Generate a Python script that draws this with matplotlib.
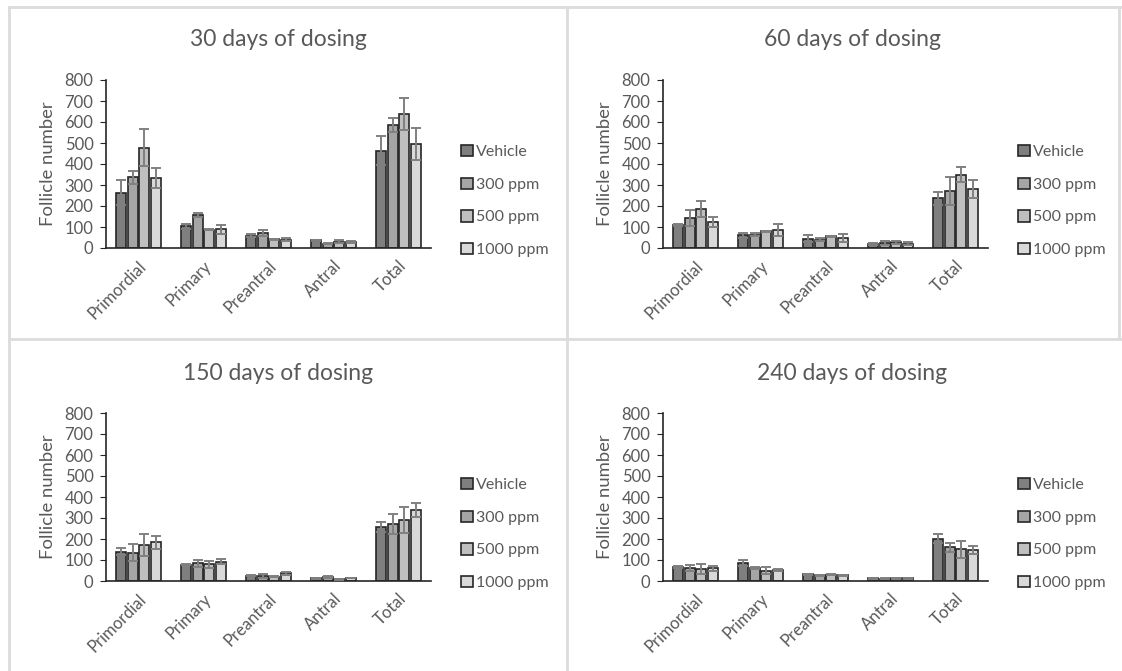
import numpy as np
import matplotlib.pyplot as plt
from matplotlib.patches import Patch
from matplotlib.lines import Line2D

plt.rcParams['font.family'] = ['Lato', 'DejaVu Sans']

# data
categories = ['Primordial', 'Primary', 'Preantral', 'Antral', 'Total']
groups = ['Vehicle', '300 ppm', '500 ppm', '1000 ppm']
titles = ['30 days of dosing', '60 days of dosing', '150 days of dosing', '240 days of dosing']

# 30 days
d30_mean = [[264, 103, 59, 36, 464],
            [337, 158, 71, 21, 586],
            [478, 87, 41, 29, 638],
            [334, 90, 40, 30, 496]]
d30_err = [[58, 13, 6, 4, 67],
           [32, 8, 16, 3, 32],
           [89, 2, 3, 7, 75],
           [49, 21, 8, 5, 76]]
# 60 days
d60_mean = [[109, 60, 44, 19, 236],
            [143, 63, 39, 24, 272],
            [186, 80, 55, 27, 350],
            [124, 87, 46, 20, 282]]
d60_err = [[3, 12, 17, 6, 30],
           [38, 8, 7, 11, 65],
           [38, 2, 3, 8, 34],
           [24, 28, 19, 7, 44]]
# 150 days
d150_mean = [[140, 78, 25, 12, 259],
             [135, 84, 22, 18, 270],
             [171, 79, 21, 9, 289],
             [184, 92, 37, 14, 337]]
d150_err = [[17, 2, 3, 3, 24],
            [40, 16, 10, 6, 47],
            [54, 18, 2, 2, 62],
            [32, 11, 7, 2, 34]]
# 240 days
d240_mean = [[67, 84, 32, 12, 202],
             [62, 60, 27, 11, 160],
             [56, 49, 29, 13, 151],
             [60, 54, 27, 12, 148]]
d240_err = [[5, 14, 3, 2, 23],
            [16, 5, 2, 2, 23],
            [25, 16, 2, 2, 41],
            [10, 5, 2, 2, 19]]

colors = ['#7f7f7f', '#a5a5a5', '#bfbfbf', '#d9d9d9']
txt = '#595959'
edge = '#262626'

W, H = 1122, 671
fig = plt.figure(figsize=(W / 100, H / 100), dpi=100)

# panel borders (light gray)
def fline(x0, y0, x1, y1):
    fig.add_artist(Line2D([x0 / W, x1 / W], [1 - y0 / H, 1 - y1 / H],
                          color='#dcdcdc', lw=2, transform=fig.transFigure))

fline(9, 7, W, 7)
fline(9, 7, 9, H)
fline(9, 339, W, 339)
fline(567, 7, 567, H)
fline(1119, 7, 1119, 339)

# panel layout in pixels: (axes left, zero line y, title x, title y, legend x)
panels = [
    (106, 248, 278, 40, 461, d30_mean, d30_err),
    (663, 248, 852, 40, 1018, d60_mean, d60_err),
    (106, 581, 278, 373, 461, d150_mean, d150_err),
    (663, 581, 852, 373, 1018, d240_mean, d240_err),
]

x = np.arange(len(categories))
step = 0.18
bw = 0.15

for k, (axl, y0, tx, ty, lx, means, errs) in enumerate(panels):
    ax = fig.add_axes([axl / W, 1 - y0 / H, 325 / W, 168 / H])
    for i in range(4):
        pos = x + (i - 1.5) * step
        ax.bar(pos, means[i], bw, color=colors[i], edgecolor=edge, lw=1.2, zorder=2)
        ax.errorbar(pos, means[i], yerr=errs[i], fmt='none', ecolor='#808080',
                    elinewidth=1.4, capsize=3.5, capthick=1.4, zorder=3)
    ax.set_xlim(-0.5, 4.5)
    ax.set_ylim(0, 800)
    ax.set_yticks(range(0, 801, 100))
    ax.set_xticks(x)
    ax.set_xticklabels(categories, rotation=45, ha='right', rotation_mode='anchor',
                       fontsize=12, color=txt)
    ax.tick_params(axis='x', length=0, pad=7)
    ax.tick_params(axis='y', length=4, color=edge, labelsize=12, labelcolor=txt, pad=5)
    for s in ['top', 'right']:
        ax.spines[s].set_visible(False)
    for s in ['left', 'bottom']:
        ax.spines[s].set_color(edge)
        ax.spines[s].set_linewidth(1.2)
    ax.set_ylabel('Follicle number', fontsize=13.3, color=txt)
    ax.yaxis.set_label_coords(-0.154, 0.5)

    fig.text(tx / W, 1 - ty / H, titles[k], ha='center', va='center',
             fontsize=16.5, color=txt)

    handles = [Patch(facecolor=c, edgecolor=edge, lw=1.2) for c in colors]
    fig.legend(handles, groups, loc='center left',
               bbox_to_anchor=(lx / W, 1 - (y0 - 47) / H),
               frameon=False, fontsize=11.5, labelcolor=txt,
               handlelength=0.72, handleheight=0.72, handletextpad=0.2,
               labelspacing=1.15, borderpad=0, borderaxespad=0)

fig.savefig('out.png', dpi=100, facecolor='white')
